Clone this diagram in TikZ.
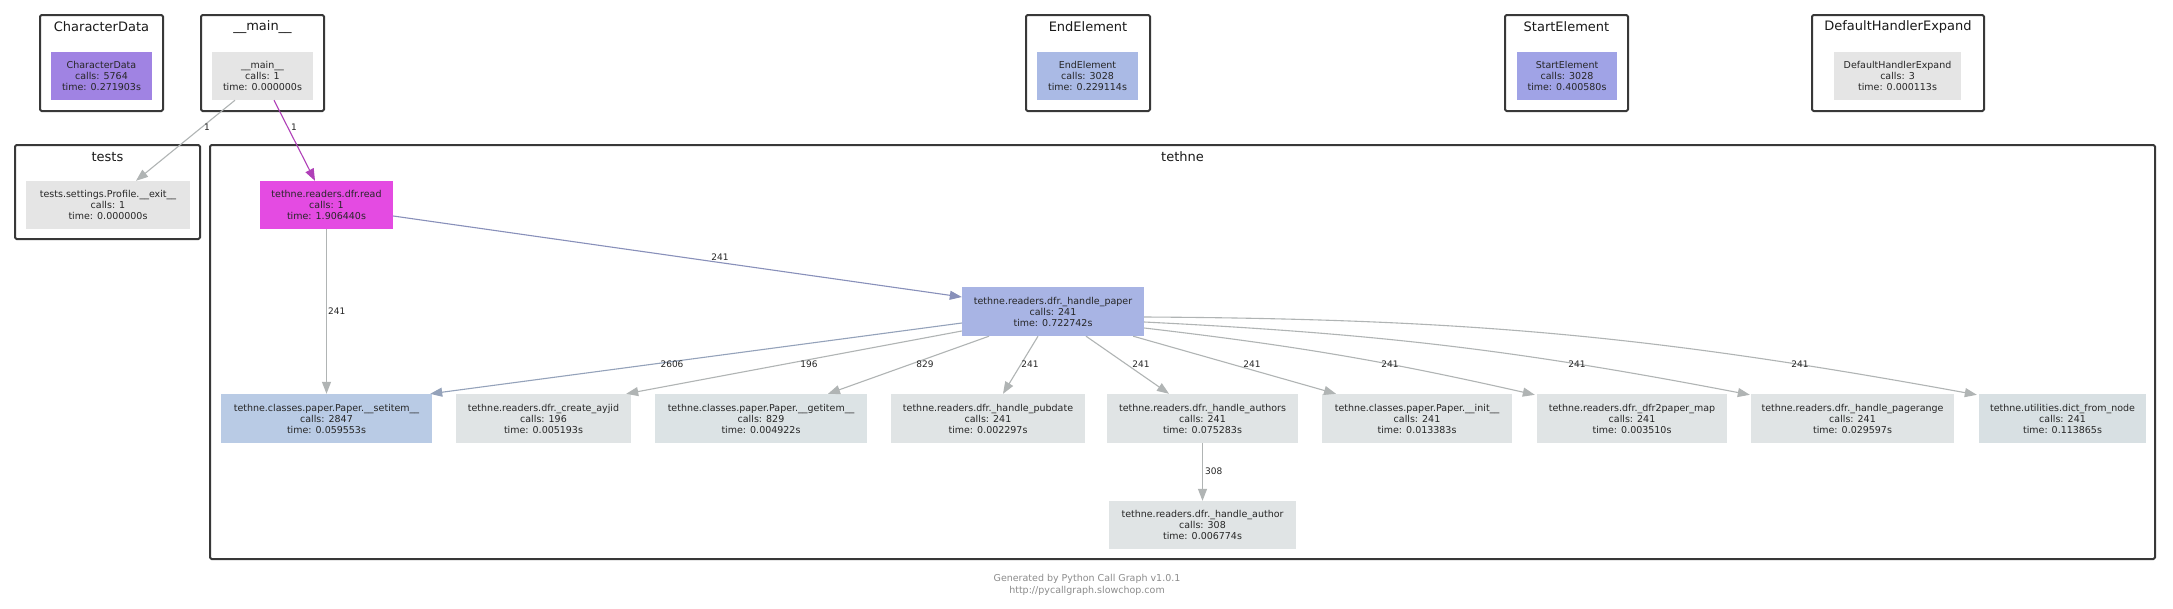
\documentclass[tikz,border=0pt]{standalone}
\usepackage{fontspec}
\setmainfont{DejaVu Sans}
\usetikzlibrary{arrows.meta,calc}
\definecolor{cdFill}{HTML}{A083E3}
\definecolor{readFill}{HTML}{E44BE2}
\definecolor{paperFill}{HTML}{A8B4E4}
\definecolor{endFill}{HTML}{AABAE5}
\definecolor{startFill}{HTML}{A0A3E6}
\definecolor{idleFill}{HTML}{E5E5E5}
\definecolor{setFill}{HTML}{B9CBE5}
\definecolor{leafFill}{HTML}{E0E4E5}
\definecolor{getFill}{HTML}{DCE3E5}
\definecolor{dictFill}{HTML}{D8E0E3}
\definecolor{grayEdge}{HTML}{B0B4B4}
\definecolor{purpEdge}{HTML}{B040B8}
\definecolor{blueEdge}{HTML}{8890BA}
\definecolor{setEdge}{HTML}{94A2BA}
\newcommand{\callinfo}[3]{#1\\calls: #2\\time: #3s}
\begin{document}
\begin{tikzpicture}[x=1pt,y=-1pt,>={Triangle[length=12pt,width=9pt]},line join=round,
	fn/.style={rectangle,inner sep=0pt,minimum height=48pt,align=center,text=black!85,font=\fontsize{9.5}{11}\selectfont},
	cluster/.style={draw=black!78,line width=2pt,rounded corners=1.5pt},
	ctitle/.style={inner sep=0pt,text=black!90,font=\fontsize{13}{15}\selectfont},
	call/.style={->,line width=1.1pt,draw=#1},
	cnt/.style={inner sep=0pt,text=black!85,font=\fontsize{9}{10}\selectfont},
	foot/.style={inner sep=0pt,text=black!45,align=center,font=\fontsize{9.5}{12}\selectfont}]
	\fill[white] (0,0) rectangle (2173,608);
	\useasboundingbox (0,0) rectangle (2173,608);
	% clusters
	\draw[cluster] (40,15) rectangle (163,111);
	\draw[cluster] (201,15) rectangle (324,111);
	\draw[cluster] (1026,15) rectangle (1150,111);
	\draw[cluster] (1505,15) rectangle (1628,111);
	\draw[cluster] (1812,15) rectangle (1984,111);
	\draw[cluster] (15,145) rectangle (200,239);
	\draw[cluster] (210,145) rectangle (2155,559);
	\node[ctitle] (tChar) at (101.5,27) {CharacterData};
	\node[ctitle] (tMain) at (262.5,27) {\_\_main\_\_};
	\node[ctitle] (tEnd) at (1088,27) {EndElement};
	\node[ctitle] (tStart) at (1566.5,27) {StartElement};
	\node[ctitle] (tDhe) at (1898,27) {DefaultHandlerExpand};
	\node[ctitle] (tTests) at (107.5,157) {tests};
	\node[ctitle] (tTethne) at (1182.5,157) {tethne};
	% functions
	\node[fn,fill=cdFill,minimum width=101pt] (chardata) at (101.5,76) {\callinfo{CharacterData}{5764}{0.271903}};
	\node[fn,fill=idleFill,minimum width=101pt] (main) at (262.5,76) {\callinfo{\_\_main\_\_}{1}{0.000000}};
	\node[fn,fill=endFill,minimum width=101pt] (endel) at (1087.5,76) {\callinfo{EndElement}{3028}{0.229114}};
	\node[fn,fill=startFill,minimum width=100pt] (startel) at (1567,76) {\callinfo{StartElement}{3028}{0.400580}};
	\node[fn,fill=idleFill,minimum width=127pt] (dhe) at (1897.5,76) {\callinfo{DefaultHandlerExpand}{3}{0.000113}};
	\node[fn,fill=idleFill,minimum width=164pt] (tests) at (108,205) {\callinfo{tests.settings.Profile.\_\_exit\_\_}{1}{0.000000}};
	\node[fn,fill=readFill,minimum width=133pt] (read) at (326.5,205) {\callinfo{tethne.readers.dfr.read}{1}{1.906440}};
	\node[fn,fill=paperFill,minimum width=182pt,minimum height=49pt] (paper) at (1053,311.5) {\callinfo{tethne.readers.dfr.\_handle\_paper}{241}{0.722742}};
	\node[fn,fill=setFill,minimum width=211pt,minimum height=49pt] (setitem) at (326.5,418.5) {\callinfo{tethne.classes.paper.Paper.\_\_setitem\_\_}{2847}{0.059553}};
	\node[fn,fill=leafFill,minimum width=175pt,minimum height=49pt] (ayjid) at (543.5,418.5) {\callinfo{tethne.readers.dfr.\_create\_ayjid}{196}{0.005193}};
	\node[fn,fill=getFill,minimum width=212pt,minimum height=49pt] (getitem) at (761,418.5) {\callinfo{tethne.classes.paper.Paper.\_\_getitem\_\_}{829}{0.004922}};
	\node[fn,fill=leafFill,minimum width=194pt,minimum height=49pt] (pubdate) at (988,418.5) {\callinfo{tethne.readers.dfr.\_handle\_pubdate}{241}{0.002297}};
	\node[fn,fill=leafFill,minimum width=191pt,minimum height=49pt] (authors) at (1202.5,418.5) {\callinfo{tethne.readers.dfr.\_handle\_authors}{241}{0.075283}};
	\node[fn,fill=leafFill,minimum width=190pt,minimum height=49pt] (init) at (1417,418.5) {\callinfo{tethne.classes.paper.Paper.\_\_init\_\_}{241}{0.013383}};
	\node[fn,fill=leafFill,minimum width=190pt,minimum height=49pt] (dfrmap) at (1632,418.5) {\callinfo{tethne.readers.dfr.\_dfr2paper\_map}{241}{0.003510}};
	\node[fn,fill=leafFill,minimum width=203pt,minimum height=49pt] (pagerange) at (1852.5,418.5) {\callinfo{tethne.readers.dfr.\_handle\_pagerange}{241}{0.029597}};
	\node[fn,fill=dictFill,minimum width=167pt,minimum height=49pt] (dictnode) at (2062.5,418.5) {\callinfo{tethne.utilities.dict\_from\_node}{241}{0.113865}};
	\node[fn,fill=leafFill,minimum width=187pt] (author) at (1202.5,525) {\callinfo{tethne.readers.dfr.\_handle\_author}{308}{0.006774}};
	% calls
	\draw[call=grayEdge] ($(main.south)+(-27.5,0)$) -- ($(tests.north)+(28,0)$);
	\draw[call=purpEdge] ($(main.south)+(11.5,0)$) -- ($(read.north)+(-11.5,0)$);
	\draw[call=grayEdge] (read.south) -- (setitem.north);
	\draw[call=blueEdge] ($(read.east)+(0,11)$) -- ($(paper.west)+(0,-14.5)$);
	\draw[call=setEdge] ($(paper.west)+(0,11.5)$) -- ($(setitem.north east)+(-2,0)$);
	\draw[call=grayEdge] ($(paper.west)+(0,19.5)$) -- ($(ayjid.north east)+(-5,0)$);
	\draw[call=grayEdge] ($(paper.south)+(-64,0)$) -- ($(getitem.north)+(67,0)$);
	\draw[call=grayEdge] ($(paper.south)+(-15,0)$) -- ($(pubdate.north)+(15,0)$);
	\draw[call=grayEdge] ($(paper.south)+(33,0)$) -- ($(authors.north)+(-33.5,0)$);
	\draw[call=grayEdge] ($(paper.south east)+(-11,0)$) -- ($(init.north)+(-81,0)$);
	\draw[call=grayEdge] ($(paper.east)+(0,16.5)$) to[bend left=3] ($(dfrmap.north west)+(-2,1)$);
	\draw[call=grayEdge] ($(paper.east)+(0,10.5)$) to[bend left=4] ($(pagerange.north west)+(-1,1)$);
	\draw[call=grayEdge] ($(paper.east)+(0,5.5)$) to[bend left=5] ($(dictnode.north west)+(-2,1)$);
	\draw[call=grayEdge] (authors.south) -- (author.north);
	% counts
	\node[cnt] (cTests) at (207,127) {1};
	\node[cnt] (cRead) at (294,127) {1};
	\node[cnt,anchor=west] (cSet) at (328,311) {241};
	\node[cnt] (cPaper) at (720,257) {241};
	\node[cnt] (c2606) at (672,364) {2606};
	\node[cnt] (c196) at (809,364) {196};
	\node[cnt] (c829) at (925,364) {829};
	\node[cnt] (cPub) at (1030,364) {241};
	\node[cnt] (cAuths) at (1141,364) {241};
	\node[cnt] (cInit) at (1252,364) {241};
	\node[cnt] (cMap) at (1390,364) {241};
	\node[cnt] (cPage) at (1577,364) {241};
	\node[cnt] (cDict) at (1800,364) {241};
	\node[cnt,anchor=west] (cAuth) at (1205,471) {308};
	\node[foot] (footer) at (1087,585) {Generated by Python Call Graph v1.0.1\\http://pycallgraph.slowchop.com};
\end{tikzpicture}
\end{document}
